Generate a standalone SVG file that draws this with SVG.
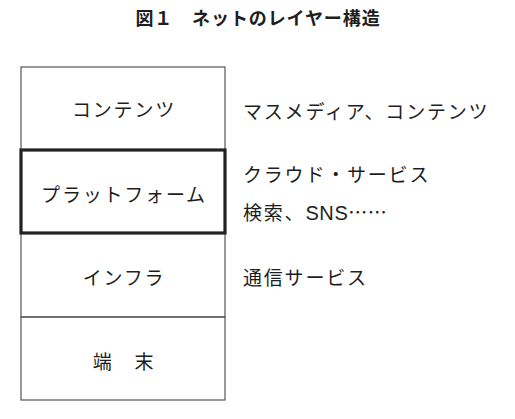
<svg xmlns="http://www.w3.org/2000/svg" width="515" height="419" viewBox="0 0 515 419">
<style>
text{font-family:"Noto Sans CJK JP","Noto Sans",sans-serif;fill:#1e1e1e;font-size:19px;letter-spacing:1.8px}
.t{font-weight:bold;font-size:18px;letter-spacing:0.9px}
.c{text-anchor:middle}
.thin{fill:none;stroke:#555;stroke-width:1.2}
.thick{fill:none;stroke:#222;stroke-width:3.2}
.fw{font-feature-settings:"fwid"}
</style>
<rect width="515" height="419" fill="#fff"/>
<text class="t c" x="258" y="25">図１　ネットのレイヤー構造</text>
<g id="connectors"></g>
<g id="contents"><rect class="thin" x="21" y="67" width="204" height="83"/><text class="c" x="124" y="117">コンテンツ</text></g>
<g id="infra"><rect class="thin" x="21" y="233" width="204" height="84"/><text class="c" x="124" y="285">インフラ</text></g>
<g id="terminal"><rect class="thin" x="21" y="317" width="204" height="83"/><text class="c" x="124" y="369">端　末</text></g>
<g id="platform"><rect class="thick" x="21" y="150" width="204" height="83"/><text class="c" x="124" y="202">プラットフォーム</text></g>
<g id="desc">
<text x="243" y="119">マスメディア、コンテンツ</text>
<text x="243" y="182">クラウド・サービス</text>
<text x="243" y="220" xml:lang="ja">検索、<tspan font-family="Liberation Sans, sans-serif" font-size="20" letter-spacing="0.6">SNS</tspan><tspan class="fw" letter-spacing="0.5">……</tspan></text>
<text x="243" y="285">通信サービス</text>
</g>
</svg>
